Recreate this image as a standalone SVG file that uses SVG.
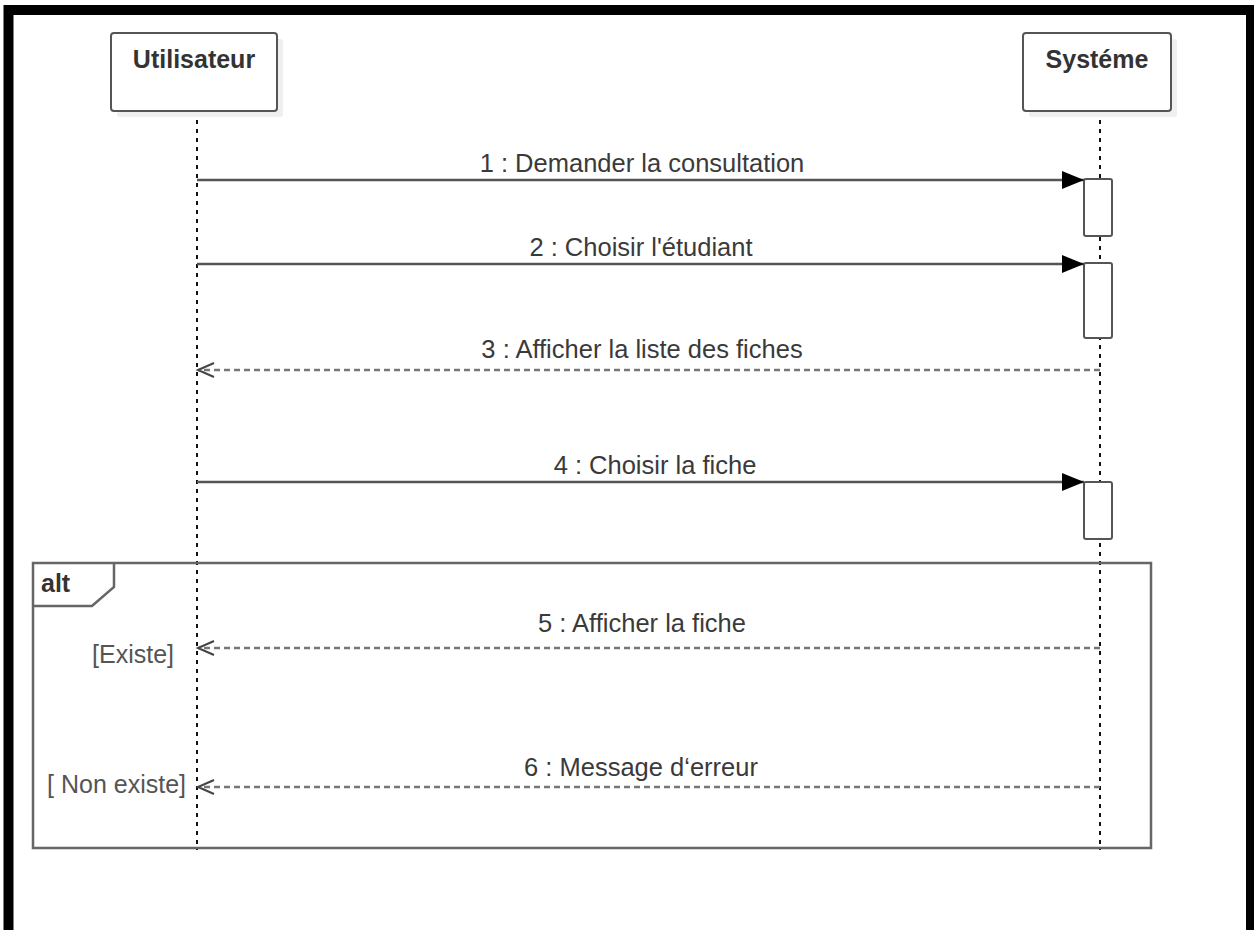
<svg xmlns="http://www.w3.org/2000/svg" width="1254" height="930" viewBox="0 0 1254 930">
<style>
.lbl{font-family:"Liberation Sans",Arial,sans-serif;font-size:25.5px;fill:#3a3a3a;text-anchor:middle}
.hd{font-family:"Liberation Sans",Arial,sans-serif;font-size:25px;font-weight:bold;fill:#333}
.grd{font-family:"Liberation Sans",Arial,sans-serif;font-size:25px;fill:#555}
.box{fill:#fff;stroke:#555;stroke-width:2}
.shadow{fill:#efefef}
.life{stroke:#111;stroke-width:2;stroke-dasharray:4 5;fill:none}
.msg{stroke:#555;stroke-width:2.5;fill:none}
.ret{stroke:#777;stroke-width:2.5;stroke-dasharray:6 4;fill:none}
.act{fill:#fff;stroke:#555;stroke-width:2}
.frame{fill:none;stroke:#666;stroke-width:2.5}
</style>
<defs>
<marker id="filled" markerUnits="userSpaceOnUse" markerWidth="24" markerHeight="20" refX="22" refY="9" orient="auto">
<path d="M0,0 L22,9 L0,18 Z" fill="#000"/>
</marker>
<marker id="open" markerUnits="userSpaceOnUse" markerWidth="22" markerHeight="20" refX="18" refY="9" orient="auto">
<path d="M2,2 L18,9 L2,16" fill="none" stroke="#444" stroke-width="2"/>
</marker>
</defs>
<rect x="0" y="0" width="1254" height="930" fill="#fff"/>
<path d="M8.5,930 V10 H1251 V930" fill="none" stroke="#000" stroke-width="10"/>

<g id="lifelines">
<line class="life" x1="197" y1="111" x2="197" y2="850"/>
<line class="life" x1="1100" y1="111" x2="1100" y2="850"/>
</g>

<g id="utilisateur">
<rect class="shadow" x="117" y="39" width="166" height="78" rx="3"/>
<rect class="box" x="111" y="33" width="166" height="78" rx="3"/>
<text class="hd" x="194" y="68" text-anchor="middle">Utilisateur</text>
</g>

<g id="systeme">
<rect class="shadow" x="1029" y="39" width="148" height="78" rx="3"/>
<rect class="box" x="1023" y="33" width="148" height="78" rx="3"/>
<text class="hd" x="1097" y="68" text-anchor="middle">Systéme</text>
</g>

<g id="alt">
<rect class="frame" x="33" y="563" width="1118" height="285"/>
<path class="frame" d="M33,606 H92 L114,587 V563"/>
<text class="hd" x="41" y="592">alt</text>
<text class="grd" x="174" y="663" text-anchor="end">[Existe]</text>
<text class="grd" x="186" y="793" text-anchor="end">[ Non existe]</text>
</g>

<g id="activations">
<rect class="act" x="1084" y="179" width="28" height="57" rx="2"/>
<rect class="act" x="1084" y="263" width="28" height="75" rx="2"/>
<rect class="act" x="1084" y="482" width="28" height="57" rx="2"/>
</g>

<g id="connectors">
<line class="msg" x1="197" y1="180" x2="1084" y2="180" marker-end="url(#filled)"/>
<line class="msg" x1="197" y1="264" x2="1084" y2="264" marker-end="url(#filled)"/>
<line class="ret" x1="1100" y1="370" x2="198" y2="370" marker-end="url(#open)"/>
<line class="msg" x1="197" y1="482" x2="1084" y2="482" marker-end="url(#filled)"/>
<line class="ret" x1="1100" y1="648" x2="198" y2="648" marker-end="url(#open)"/>
<line class="ret" x1="1100" y1="787" x2="198" y2="787" marker-end="url(#open)"/>
</g>

<g id="labels">
<text class="lbl" x="642" y="172">1 : Demander la consultation</text>
<text class="lbl" x="641" y="256">2 : Choisir l'étudiant</text>
<text class="lbl" x="642" y="358">3 : Afficher la liste des fiches</text>
<text class="lbl" x="655" y="474">4 : Choisir la fiche</text>
<text class="lbl" x="642" y="632">5 : Afficher la fiche</text>
<text class="lbl" x="641" y="776">6 : Message d‘erreur</text>
</g>
</svg>
